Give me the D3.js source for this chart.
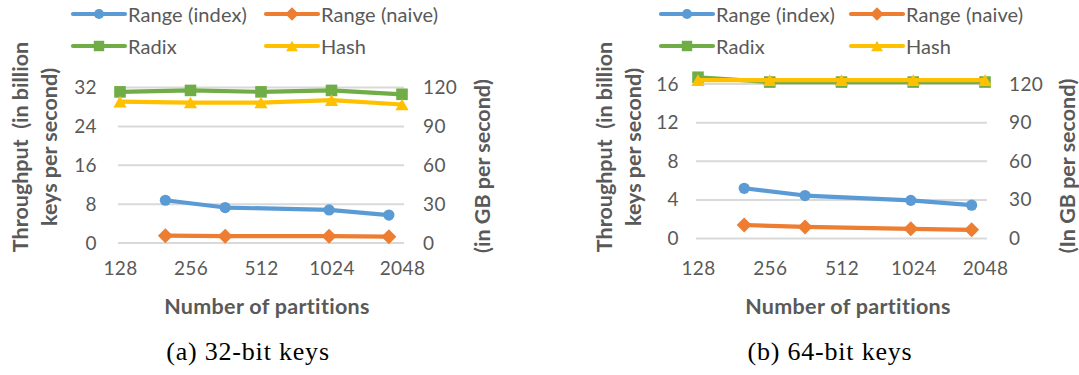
<!DOCTYPE html>
<html>
<head>
<meta charset="utf-8">
<script src="https://cdn.jsdelivr.net/npm/d3@7"></script>
<style>
  html, body { margin: 0; padding: 0; background: #fff; }
  svg { display: block; }
  text { font-family: Lato, "Open Sans", sans-serif; }
  .caption { font-family: "Liberation Serif", "Times New Roman", serif; }
</style>
</head>
<body>
<svg id="fig" width="1079" height="375"></svg>
<script>
// Partition counts on the log2 x axis, and the fanouts used by range partitioning
const partitions = [128, 256, 512, 1024, 2048];
const rangeFanouts = [200, 360, 1000, 1800];

// Axis tick labels
const keyTicks32 = [0, 8, 16, 24, 32];
const keyTicks64 = [0, 4, 8, 12, 16];
const gbTicks = [0, 30, 60, 90, 120];

// Throughput, billion keys per second: 32-bit keys
const rangeIndex32 = [8.8, 7.3, 6.8, 5.75];
const rangeNaive32 = [1.5, 1.4, 1.4, 1.3];
const radix32 = [31.1, 31.4, 31.1, 31.4, 30.6];
const hash32 = [29.1, 28.9, 28.9, 29.4, 28.5];

// Throughput, billion keys per second: 64-bit keys
const rangeIndex64 = [5.2, 4.45, 3.95, 3.45];
const rangeNaive64 = [1.4, 1.2, 1.0, 0.9];
const radix64 = [16.7, 16.2, 16.2, 16.2, 16.2];
const hash64 = [16.4, 16.4, 16.4, 16.4, 16.4];

const seriesNames = ["Range (index)", "Range (naive)", "Radix", "Hash"];
const seriesColors = ["#5b9bd5", "#ed7d31", "#70ad47", "#ffc000"];
const seriesMarkers = ["circle", "diamond", "square", "triangle"];

const textGray = "#595959";
const gridGray = "#d9d9d9";

function markerPath(kind, s) {
  s = s || 1;
  if (kind === "circle") return d3.symbol(d3.symbolCircle, Math.PI * 5.6 * 5.6 * s * s)();
  if (kind === "diamond") { const r = 7.5 * s; return `M0,${-r}L${r},0L0,${r}L${-r},0Z`; }
  if (kind === "square") { const r = 5.8 * s; return `M${-r},${-r}H${r}V${r}H${-r}Z`; }
  const w = 6.6 * s, h = 5.8 * s;
  return `M0,${-h}L${w},${h}L${-w},${h}Z`;
}

const svg = d3.select("#fig");

function drawChart(cfg) {
  const g = svg.append("g");
  const x = d3.scaleLog().base(2).domain([partitions[0], partitions[partitions.length - 1]]).range([cfg.x0, cfg.x1]);
  const y = d3.scaleLinear().domain([0, cfg.keyTicks[cfg.keyTicks.length - 1]]).range([cfg.yBot, cfg.yTop]);
  const y2 = d3.scaleLinear().domain([0, gbTicks[gbTicks.length - 1]]).range([cfg.yBot, cfg.yTop]);

  // horizontal gridlines
  g.append("g").selectAll("line").data(cfg.keyTicks).join("line")
    .attr("x1", cfg.x0 - 2).attr("x2", cfg.x1 + 2)
    .attr("y1", d => y(d)).attr("y2", d => y(d))
    .attr("stroke", gridGray).attr("stroke-width", 2);

  // primary axis (keys per second)
  const axL = g.append("g").attr("transform", `translate(${cfg.leftLabelX + 6},0)`)
    .call(d3.axisLeft(y).tickValues(cfg.keyTicks).tickSize(0).tickPadding(6).tickFormat(d3.format("d")));
  // secondary axis (GB per second)
  const axR = g.append("g").attr("transform", `translate(${cfg.rightLabelX - 6},0)`)
    .call(d3.axisRight(y2).tickValues(gbTicks).tickSize(0).tickPadding(6).tickFormat(d3.format("d")));
  // x axis (number of partitions)
  const axB = g.append("g").attr("transform", `translate(0,${cfg.xLabelY - 12})`)
    .call(d3.axisBottom(x).tickValues(partitions).tickSize(0).tickPadding(0).tickFormat(d3.format("d")));
  [axL, axR, axB].forEach(a => {
    a.select(".domain").remove();
    a.selectAll("text").attr("fill", textGray).attr("font-size", 19)
      .attr("font-family", "Lato, 'Open Sans', sans-serif").attr("letter-spacing", 0.4);
  });
  axB.selectAll("text").attr("dy", "0.9em");

  // series
  const series = [
    { xs: rangeFanouts, ys: cfg.rangeIndex },
    { xs: rangeFanouts, ys: cfg.rangeNaive },
    { xs: partitions, ys: cfg.radix },
    { xs: partitions, ys: cfg.hash }
  ];
  const line = d3.line().x(d => x(d[0])).y(d => y(d[1]));
  series.forEach((s, i) => {
    const pts = s.xs.map((v, k) => [v, s.ys[k]]);
    const sg = g.append("g");
    sg.append("path").attr("d", line(pts)).attr("fill", "none")
      .attr("stroke", seriesColors[i]).attr("stroke-width", 4.2)
      .attr("stroke-linejoin", "round").attr("stroke-linecap", "round");
    sg.selectAll("path.mk").data(pts).join("path").attr("class", "mk")
      .attr("d", markerPath(seriesMarkers[i]))
      .attr("transform", d => `translate(${x(d[0])},${y(d[1])})`)
      .attr("fill", seriesColors[i]);
  });

  // legend, two columns by two rows
  const lg = g.append("g");
  seriesNames.forEach((name, i) => {
    const lx = cfg.legendX[i % 2], ly = cfg.legendY[Math.floor(i / 2)];
    lg.append("line").attr("x1", lx).attr("x2", lx + 52).attr("y1", ly).attr("y2", ly)
      .attr("stroke", seriesColors[i]).attr("stroke-width", 4.2).attr("stroke-linecap", "round");
    lg.append("path").attr("d", markerPath(seriesMarkers[i], 0.9))
      .attr("transform", `translate(${lx + 26},${ly})`).attr("fill", seriesColors[i]);
    lg.append("text").attr("x", lx + 55).attr("y", ly + 7.5).attr("fill", textGray)
      .attr("font-size", 20).attr("letter-spacing", 0.1).text(name);
  });

  // axis titles
  const t1 = g.append("text").attr("transform", `translate(${cfg.titleX},${cfg.titleCY}) rotate(-90)`)
    .attr("text-anchor", "middle").attr("fill", textGray).attr("font-weight", "bold")
    .attr("font-size", 21.5).style("white-space", "pre");
  t1.append("tspan").attr("x", 0).attr("y", 0).text("Throughput  (in billion");
  t1.append("tspan").attr("x", 0).attr("y", 29).text("keys per second)");

  g.append("text").attr("transform", `translate(${cfg.rTitleX},${cfg.rTitleCY}) rotate(-90)`)
    .attr("text-anchor", "middle").attr("fill", textGray).attr("font-weight", "bold")
    .attr("font-size", 21.5).text(cfg.rTitle);

  g.append("text").attr("x", cfg.xTitleCX).attr("y", cfg.xTitleY)
    .attr("text-anchor", "middle").attr("fill", textGray).attr("font-weight", "bold")
    .attr("font-size", 21.5).attr("letter-spacing", 0.3).text("Number of partitions");

  // subfigure caption
  g.append("text").attr("class", "caption").attr("x", cfg.captionCX).attr("y", cfg.captionY)
    .attr("text-anchor", "middle").attr("fill", "#000").attr("font-size", 26)
    .attr("letter-spacing", 0.8).text(cfg.caption);
}

drawChart({
  x0: 120, x1: 402, yTop: 87.5, yBot: 243,
  keyTicks: keyTicks32,
  leftLabelX: 97, rightLabelX: 423, xLabelY: 270,
  rangeIndex: rangeIndex32, rangeNaive: rangeNaive32, radix: radix32, hash: hash32,
  legendX: [73, 266], legendY: [14, 46],
  titleX: 28, titleCY: 147,
  rTitleX: 490, rTitleCY: 166, rTitle: "(in GB per second)",
  xTitleCX: 267, xTitleY: 314,
  caption: "(a) 32-bit keys", captionCX: 248, captionY: 360
});

drawChart({
  x0: 698, x1: 985, yTop: 84, yBot: 238.5,
  keyTicks: keyTicks64,
  leftLabelX: 679, rightLabelX: 1009, xLabelY: 270,
  rangeIndex: rangeIndex64, rangeNaive: rangeNaive64, radix: radix64, hash: hash64,
  legendX: [661, 851], legendY: [14, 46],
  titleX: 612, titleCY: 147,
  rTitleX: 1075, rTitleCY: 166, rTitle: "(In GB per second)",
  xTitleCX: 848, xTitleY: 314,
  caption: "(b) 64-bit keys", captionCX: 830, captionY: 360
});
</script>
</body>
</html>
